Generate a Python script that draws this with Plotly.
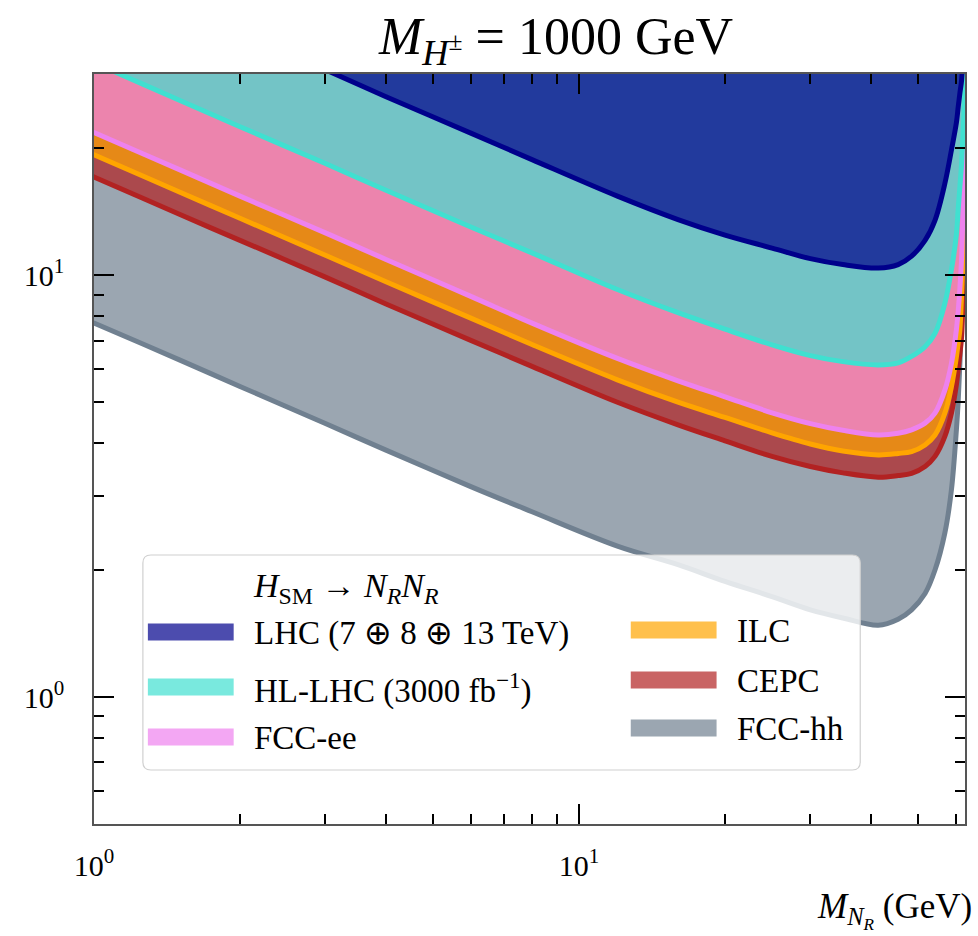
import numpy as np
import plotly.graph_objects as go

# ---------------- data ----------------
m_nr = [0.9, 1, 1.5, 2, 3, 4, 6, 8, 12, 16, 20, 25, 30, 35, 41.4, 45.5, 48.5,
        51.7, 54.2, 56.8, 58.6, 60.0, 60.5, 61.0, 61.5, 62.0, 62.3, 62.48]

lhc = [56, 53.1, 43.4, 37.5, 30.7, 26.5, 21.7, 18.8, 15.4, 13.55, 12.45, 11.6, 10.95,
       10.6, 10.4, 10.6, 11.1, 12.1, 13.5, 16.5, 19.8, 23.0, 25.0, 27.0, 29.0, 35.0,
       45.0, 100.0]
hl_lhc = [33.6, 31.9, 26.0, 22.5, 18.4, 15.9, 13.0, 11.3, 9.25, 8.15, 7.45, 6.84, 6.45,
          6.24, 6.13, 6.2, 6.42, 6.77, 7.28, 8.58, 10.3, 12.5, 14.3, 16.2, 18.4, 22.5,
          25.5, 80.0]
fcc_ee = [23.0, 21.8, 17.8, 15.4, 12.6, 10.9, 8.9, 7.7, 6.35, 5.62, 5.15, 4.72, 4.45,
          4.29, 4.18, 4.22, 4.30, 4.46, 4.71, 5.34, 6.18, 7.43, 8.2, 9.3, 11.0, 15.5,
          22.0, 80.0]
ilc = [20.3, 19.3, 15.75, 13.65, 11.15, 9.65, 7.9, 6.85, 5.65, 5.0, 4.6, 4.23, 3.98,
       3.83, 3.75, 3.78, 3.82, 3.96, 4.18, 4.71, 5.44, 6.4, 6.9, 7.43, 9.0, 11.5,
       15.0, 70.0]
cepc = [18.0, 17.1, 13.95, 12.1, 9.9, 8.55, 7.0, 6.08, 5.0, 4.42, 4.05, 3.72, 3.52,
        3.40, 3.32, 3.35, 3.39, 3.52, 3.72, 4.15, 4.71, 5.5, 5.96, 6.5, 7.15, 9.5,
        13.0, 60.0]
fcc_hh = [8.1, 7.7, 6.3, 5.45, 4.45, 3.85, 3.15, 2.75, 2.28, 2.06, 1.88, 1.73, 1.61,
          1.54, 1.48, 1.53, 1.61, 1.76, 2.00, 2.45, 3.10, 4.30, 5.0, 6.18, 8.0, 12.0,
          20.0, 60.0]

names = ["FCC-hh", "CEPC", "ILC", "FCC-ee", "HL-LHC", "LHC"]
legend_text = {
    "LHC": "LHC (7 \u2295 8 \u2295 13 TeV)",
    "HL-LHC": "HL-LHC (3000 fb<sup>\u22121</sup>)",
    "FCC-ee": "FCC-ee",
    "ILC": "ILC",
    "CEPC": "CEPC",
    "FCC-hh": "FCC-hh",
}
x_ticks = [1, 10]
x_ticktext = ["10<sup>0</sup>", "10<sup>1</sup>"]
y_ticks = [1, 10]
y_ticktext = ["10<sup>0</sup>", "10<sup>1</sup>"]

# ---------------- styles ----------------
series = {"FCC-hh": fcc_hh, "CEPC": cepc, "ILC": ilc, "FCC-ee": fcc_ee,
          "HL-LHC": hl_lhc, "LHC": lhc}
line_col = {"LHC": "#00008B", "HL-LHC": "#40E0D0", "FCC-ee": "#EE82EE",
            "ILC": "#FFA500", "CEPC": "#B22222", "FCC-hh": "#708090"}
fill_col = {"LHC": "rgba(0,0,139,0.7)", "HL-LHC": "rgba(64,224,208,0.7)",
            "FCC-ee": "rgba(238,130,238,0.7)", "ILC": "rgba(255,165,0,0.7)",
            "CEPC": "rgba(178,34,34,0.7)", "FCC-hh": "rgba(112,128,144,0.7)"}

FONT = "Liberation Serif"
X_MIN, X_MAX = 1.0, 62.5
Y_MIN, Y_MAX = 0.5, 30.0
FILL_TOP = 300.0   # close the excluded region above the visible range
FILL_RIGHT = 63.5
FILL_LEFT = 0.8

fig = go.Figure()
for n in names:
    ys = series[n]
    fig.add_trace(go.Scatter(
        x=m_nr + [FILL_RIGHT, FILL_LEFT],
        y=ys + [FILL_TOP, FILL_TOP],
        mode="lines",
        line=dict(color=line_col[n], width=5, shape="spline", smoothing=1.0,
                  simplify=False),
        fill="toself", fillcolor=fill_col[n],
        name=n, showlegend=False, hoverinfo="skip"))

# ---------------- layout geometry (pixels) ----------------
W, H = 978, 936
PL, PR, PT, PB = 94, 967, 74, 824
PW, PH = PR - PL, PB - PT


def px(xp):
    return (xp - PL) / PW


def py(yp):
    return (PB - yp) / PH


shapes = []
annotations = []

# legend box (rounded)
bx0, bx1, by0, by1, r = px(143), px(862), py(555), py(770), 8
rx, ry = r / PW, r / PH
path = (f"M{bx0+rx},{by0} L{bx1-rx},{by0} Q{bx1},{by0} {bx1},{by0-ry} "
        f"L{bx1},{by1+ry} Q{bx1},{by1} {bx1-rx},{by1} L{bx0+rx},{by1} "
        f"Q{bx0},{by1} {bx0},{by1+ry} L{bx0},{by0-ry} Q{bx0},{by0} {bx0+rx},{by0} Z")
shapes.append(dict(type="path", xref="paper", yref="paper", path=path,
                   fillcolor="rgba(255,255,255,0.8)",
                   line=dict(color="#d0d0d0", width=1.2), layer="above"))

legend_rows = [("LHC", 148, 632), ("HL-LHC", 148, 687), ("FCC-ee", 148, 737),
               ("ILC", 632, 630), ("CEPC", 632, 680), ("FCC-hh", 632, 728)]
for n, x0, yc in legend_rows:
    shapes.append(dict(type="rect", xref="paper", yref="paper",
                       x0=px(x0), x1=px(x0 + 86), y0=py(yc - 8.5), y1=py(yc + 8.5),
                       fillcolor=fill_col[n], line=dict(width=0), layer="above"))
    annotations.append(dict(xref="paper", yref="paper", x=px(x0 + 104), y=py(yc + 1),
                            xanchor="left", yanchor="middle", showarrow=False,
                            text=legend_text[n],
                            font=dict(family=FONT, size=33, color="black")))

annotations.append(dict(xref="paper", yref="paper", x=px(251), y=py(588),
                        xanchor="left", yanchor="middle", showarrow=False,
                        text="<i>H</i><sub>SM</sub> \u2192 <i>N</i><sub><i>R</i></sub><i>N</i><sub><i>R</i></sub>",
                        font=dict(family=FONT, size=34, color="black")))

# title
annotations.append(dict(xref="paper", yref="paper", x=px(557), y=py(40),
                        xanchor="center", yanchor="middle", showarrow=False,
                        text="<i>M</i><sub><i>H</i><sup>\u00b1</sup></sub> = 1000 GeV",
                        font=dict(family=FONT, size=52, color="black")))
# x label
annotations.append(dict(xref="paper", yref="paper", x=px(976), y=py(910),
                        xanchor="right", yanchor="middle", showarrow=False,
                        text="<i>M</i><sub><i>N</i><sub><i>R</i></sub></sub> (GeV)",
                        font=dict(family=FONT, size=35, color="black")))

x_minor = [2, 3, 4, 5, 6, 7, 8, 9, 20, 30, 40, 50, 60]
y_minor = [0.6, 0.7, 0.8, 0.9, 2, 3, 4, 5, 6, 7, 8, 9, 20, 30]

axis_common = dict(
    type="log", ticks="inside", ticklen=20, tickwidth=2, tickcolor="black",
    showline=True, linecolor="#555555", linewidth=1.5, mirror="ticks",
    showgrid=False, zeroline=False,
    tickfont=dict(family=FONT, size=30, color="black"),
)

fig.update_layout(
    width=W, height=H,
    margin=dict(l=PL, r=W - PR, t=PT, b=H - PB),
    paper_bgcolor="white", plot_bgcolor="white",
    showlegend=False,
    xaxis=dict(range=[np.log10(X_MIN), np.log10(X_MAX)], tickmode="array",
               tickvals=x_ticks, ticktext=x_ticktext, ticklabelstandoff=14,
               minor=dict(tickmode="array", tickvals=x_minor, ticks="inside",
                          ticklen=10, tickwidth=1.5, tickcolor="black", showgrid=False),
               **axis_common),
    yaxis=dict(range=[np.log10(Y_MIN), np.log10(Y_MAX)], tickmode="array",
               tickvals=y_ticks, ticktext=y_ticktext, ticklabelstandoff=22,
               minor=dict(tickmode="array", tickvals=y_minor, ticks="inside",
                          ticklen=10, tickwidth=1.5, tickcolor="black", showgrid=False),
               **axis_common),
    shapes=shapes, annotations=annotations,
)

fig.write_html("out.html")
